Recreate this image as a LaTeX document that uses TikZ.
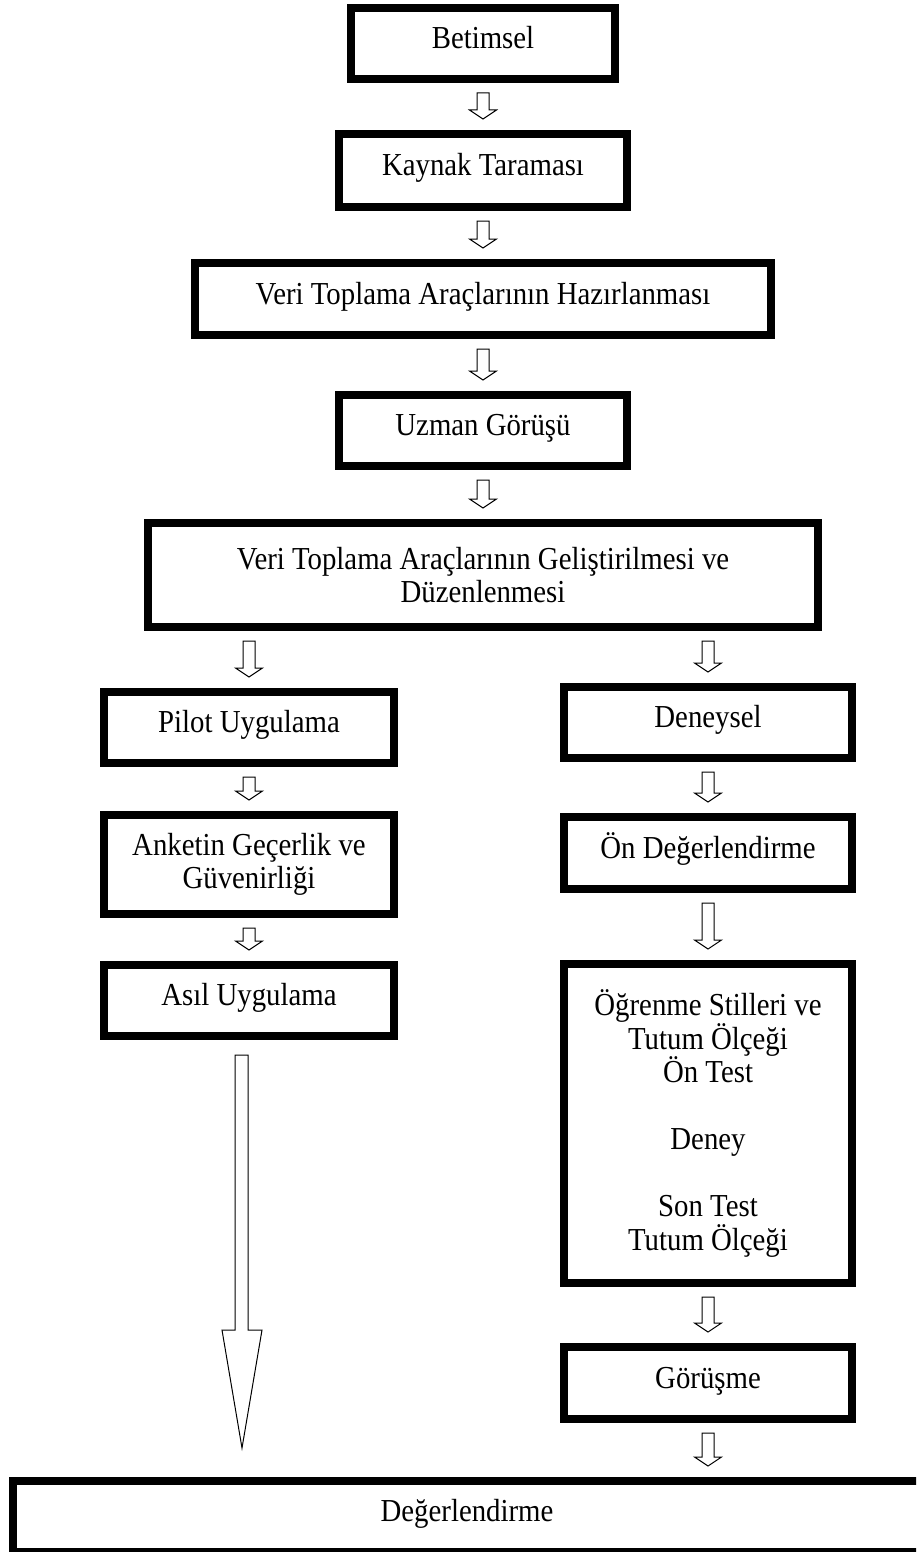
\documentclass[tikz,border=0pt]{standalone}
\usepackage{fontspec}
\setmainfont{Liberation Serif}[FakeStretch=0.9]
\usepackage{tikz}
\usetikzlibrary{positioning,calc}

\tikzset{
  stage/.style={draw, line width=8pt, inner sep=2pt, align=center, minimum width=288pt, minimum height=71pt,
    text height=22pt, text depth=12pt},
  multiline/.style={text height={}, text depth={}},
  hollow/.style={draw=black, line width=1pt, fill=white, line join=miter},
}

% hollow block arrow between two stages, placed on the column of #3
\newcommand{\flowarrow}[3]{%
  \draw[hollow] let \p1=(#1.south -| #3.center), \p2=(#2.north -| #3.center) in
    (\x1-6pt,\y1-10pt) -- (\x1+6pt,\y1-10pt) -- (\x1+6pt,\y2+20pt) -- (\x1+13.5pt,\y2+20pt)
    -- (\x1,\y2+11pt) -- (\x1-13.5pt,\y2+20pt) -- (\x1-6pt,\y2+20pt) -- cycle;
}

\begin{document}
\begin{tikzpicture}[x=1pt, y=-1pt, font=\fontsize{32}{33.5}\selectfont]
      \useasboundingbox (0,0) rectangle (916,1552);
      \clip (0,0) rectangle (916,1552);

      % Define nodes
      \node[stage, minimum width=264pt] (betimsel) at (483,43.5) {Betimsel};
      \node[stage, minimum height=73pt, below=47pt of betimsel] (kaynak) {Kaynak Taraması};
      \node[stage, minimum width=576pt, minimum height=72pt, below=48pt of kaynak] (hazir) {Veri Toplama Araçlarının Hazırlanması};
      \node[stage, below=52pt of hazir] (uzman) {Uzman Görüşü};
      \node[stage, multiline, minimum width=670pt, minimum height=104pt, below=49pt of uzman] (gelist) {Veri Toplama Araçlarının Geliştirilmesi ve\\Düzenlenmesi};

      % left branch
      \node[stage, minimum width=290pt, below=57pt of gelist, xshift=-234pt] (pilot) {Pilot Uygulama};
      \node[stage, multiline, minimum width=290pt, minimum height=99pt, below=44pt of pilot] (anket) {Anketin Geçerlik ve\\Güvenirliği};
      \node[stage, minimum width=290pt, below=43pt of anket] (asil) {Asıl Uygulama};

      % right branch
      \node[stage, below=52pt of gelist, xshift=225pt] (deneysel) {Deneysel};
      \node[stage, minimum height=72pt, below=51pt of deneysel] (onDeg) {Ön Değerlendirme};
      \node[stage, multiline, minimum height=319pt, below=67pt of onDeg] (ogrenme) {Öğrenme Stilleri ve\\Tutum Ölçeği\\Ön Test\\[33.5pt]Deney\\[33.5pt]Son Test\\Tutum Ölçeği};
      \node[stage, minimum height=72pt, below=56pt of ogrenme] (gorusme) {Görüşme};

      \node[stage, minimum width=908pt, below=54pt of gorusme, xshift=-241pt] (degerl) {Değerlendirme};

      % Connect the nodes
      \flowarrow{betimsel}{kaynak}{kaynak}
      \flowarrow{kaynak}{hazir}{hazir}
      \flowarrow{hazir}{uzman}{uzman}
      \flowarrow{uzman}{gelist}{gelist}
      \flowarrow{gelist}{pilot}{pilot}
      \flowarrow{gelist}{deneysel}{deneysel}
      \flowarrow{pilot}{anket}{anket}
      \flowarrow{anket}{asil}{asil}
      \flowarrow{deneysel}{onDeg}{onDeg}
      \flowarrow{onDeg}{ogrenme}{ogrenme}
      \flowarrow{ogrenme}{gorusme}{gorusme}
      \flowarrow{gorusme}{degerl}{gorusme}

      % long arrow down to the final stage
      \draw[hollow] let \p1=(asil.south), \p2=(degerl.north) in
        (\x1-14pt,\y1-15pt) -- (\x1-1pt,\y1-15pt) -- (\x1-1pt,\y2+147pt) -- (\x1+13pt,\y2+147pt)
        -- (\x1-7pt,\y2+29pt) -- (\x1-27pt,\y2+147pt) -- (\x1-14pt,\y2+147pt) -- cycle;

\end{tikzpicture}
\end{document}
